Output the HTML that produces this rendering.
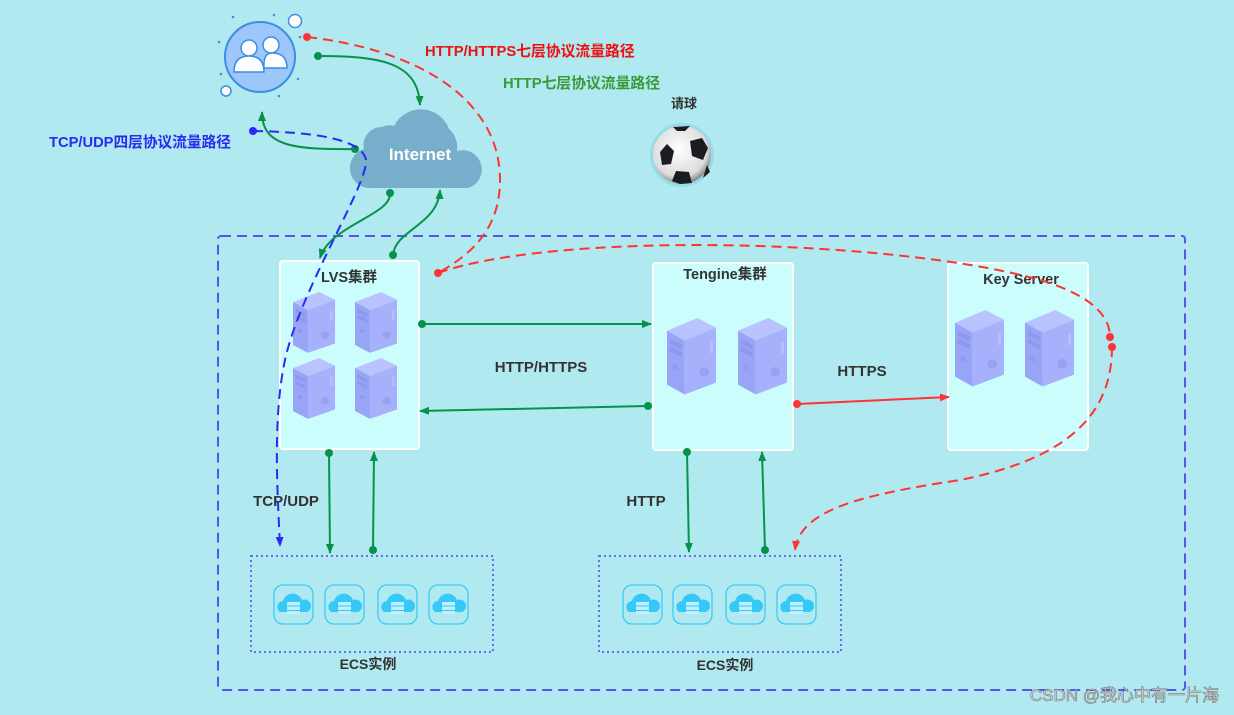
<!DOCTYPE html>
<html><head><meta charset="utf-8"><style>
html,body{margin:0;padding:0;background:#b0e9f0;}
svg{display:block;font-family:"Liberation Sans","Noto Sans CJK SC",sans-serif;}
</style></head><body>
<svg width="1234" height="715" viewBox="0 0 1234 715" xmlns="http://www.w3.org/2000/svg">
<defs>
<g id="srv">
<polygon points="0,13 31,0 50,10 18,23" fill="#b9c3fd"/>
<polygon points="0,13 18,23 18,78 0,68" fill="#98a4f6"/>
<polygon points="18,23 50,10 50,66 18,78" fill="#a6b0fb"/>
<polygon points="3,21 15,27 15,32 3,26" fill="#8d99ee"/>
<polygon points="3,29 15,35 15,40 3,34" fill="#8d99ee"/>
<circle cx="8" cy="50" r="2.5" fill="#8d99ee"/>
<circle cx="38" cy="55" r="5" fill="#98a2f2"/>
<rect x="44" y="24" width="3" height="12" fill="#b7c0fc"/>
</g>
<g id="ecs">
<rect x="0" y="0" width="39" height="39" rx="9" fill="none" stroke="#3ccdf5" stroke-width="1.3"/>
<path d="M6,27 a6,6 0 0 1 3,-11 a10,10 0 0 1 19,-1 a6,6 0 0 1 5,12 z" fill="#36c8f8"/>
<rect x="13" y="17" width="13" height="3.5" fill="#bff0ff"/>
<rect x="13" y="21.5" width="13" height="3.5" fill="#bff0ff"/>
<rect x="13" y="26" width="13" height="3" fill="#bff0ff"/>
</g>
<marker id="ag" markerWidth="10" markerHeight="8" refX="9" refY="4" orient="auto" markerUnits="userSpaceOnUse"><path d="M0,0 L10,4 L0,8 z" fill="#07924a"/></marker>
<marker id="ar" markerWidth="10" markerHeight="8" refX="9" refY="4" orient="auto" markerUnits="userSpaceOnUse"><path d="M0,0 L10,4 L0,8 z" fill="#f33"/></marker>
<marker id="ab" markerWidth="10" markerHeight="8" refX="9" refY="4" orient="auto" markerUnits="userSpaceOnUse"><path d="M0,0 L10,4 L0,8 z" fill="#2a2af5"/></marker>
<radialGradient id="ball" cx="0.45" cy="0.4" r="0.6"><stop offset="0" stop-color="#fff"/><stop offset="0.8" stop-color="#dcdcdc"/><stop offset="1" stop-color="#888"/></radialGradient>
</defs>

<rect x="218" y="236" width="967" height="454" rx="3" fill="none" stroke="#5656ee" stroke-width="2" stroke-dasharray="10,6"/>

<!-- users icon -->
<circle cx="260" cy="57" r="35" fill="#9dc6fb" stroke="#3b8ee0" stroke-width="2"/>
<circle cx="249" cy="48" r="8" fill="#fff" stroke="#3b8ee0" stroke-width="1.5"/>
<path d="M234,72 q0,-16 15,-16 q15,0 15,16 z" fill="#fff" stroke="#3b8ee0" stroke-width="1.5"/>
<circle cx="271" cy="45" r="8" fill="#fff" stroke="#3b8ee0" stroke-width="1.5"/>
<path d="M264,68 q-1,-15 8,-15 q15,0 15,15 z" fill="#fff" stroke="#3b8ee0" stroke-width="1.5"/>
<circle cx="295" cy="21" r="6.5" fill="#fff" stroke="#3b8ee0" stroke-width="1.5"/>
<circle cx="226" cy="91" r="5" fill="#fff" stroke="#3b8ee0" stroke-width="1.5"/>
<g fill="#3b8ee0"><circle cx="233" cy="17" r="1.3"/><circle cx="274" cy="15" r="1.3"/><circle cx="219" cy="42" r="1.3"/><circle cx="221" cy="74" r="1.3"/><circle cx="298" cy="79" r="1.3"/><circle cx="279" cy="96" r="1.3"/><circle cx="300" cy="37" r="1.3"/></g>

<!-- cloud -->
<path d="M372,188 a20,20 0 0 1 -8,-39 a18,18 0 0 1 18,-22 a17,17 0 0 1 12,-1 a30,30 0 0 1 55,3 a24,24 0 0 1 8,22 a19,19 0 0 1 11,37 z" fill="#76aecb"/>
<text x="420" y="160" font-size="17" font-weight="bold" fill="#fff" text-anchor="middle">Internet</text>

<!-- ball -->
<text x="684" y="108" font-size="13" font-weight="bold" fill="#333" text-anchor="middle">请球</text>
<circle cx="682" cy="155" r="32" fill="#7fd0dc" opacity="0.5"/>
<circle cx="682" cy="155" r="29" fill="url(#ball)"/>
<g fill="#1b1b22"><polygon points="667,144 660,152 662,165 671,164 674,151"/><polygon points="690,141 702,138 708,148 703,160 692,156"/><polygon points="676,171 689,172 692,183 680,184 672,181"/><polygon points="673,127 690,126 685,131 677,131"/><polygon points="707,165 710,172 703,178"/></g>

<!-- boxes -->
<rect x="280" y="261" width="139" height="188" rx="3" fill="#ccfdfd" stroke="#fff" stroke-width="2"/>
<rect x="653" y="263" width="140" height="187" rx="3" fill="#ccfdfd" stroke="#fff" stroke-width="2"/>
<rect x="948" y="263" width="140" height="187" rx="3" fill="#ccfdfd" stroke="#fff" stroke-width="2"/>
<text x="349" y="282" font-size="14.5" font-weight="bold" fill="#333" text-anchor="middle">LVS集群</text>
<text x="725" y="279" font-size="14.5" font-weight="bold" fill="#333" text-anchor="middle">Tengine集群</text>
<text x="1021" y="284" font-size="14.5" font-weight="bold" fill="#333" text-anchor="middle">Key Server</text>

<use href="#srv" transform="translate(293,292) scale(0.84,0.78)"/>
<use href="#srv" transform="translate(355,292) scale(0.84,0.78)"/>
<use href="#srv" transform="translate(293,358) scale(0.84,0.78)"/>
<use href="#srv" transform="translate(355,358) scale(0.84,0.78)"/>
<use href="#srv" transform="translate(667,318) scale(0.98,0.98)"/>
<use href="#srv" transform="translate(738,318) scale(0.98,0.98)"/>
<use href="#srv" transform="translate(955,310) scale(0.98,0.98)"/>
<use href="#srv" transform="translate(1025,310) scale(0.98,0.98)"/>

<!-- ECS -->
<rect x="251" y="556" width="242" height="96" fill="none" stroke="#6b6bf5" stroke-width="2" stroke-dasharray="2,3"/>
<rect x="599" y="556" width="242" height="96" fill="none" stroke="#6b6bf5" stroke-width="2" stroke-dasharray="2,3"/>
<use href="#ecs" x="274" y="585"/><use href="#ecs" x="325" y="585"/><use href="#ecs" x="378" y="585"/><use href="#ecs" x="429" y="585"/>
<use href="#ecs" x="623" y="585"/><use href="#ecs" x="673" y="585"/><use href="#ecs" x="726" y="585"/><use href="#ecs" x="777" y="585"/>
<text x="368" y="669" font-size="14" font-weight="bold" fill="#333" text-anchor="middle">ECS实例</text>
<text x="725" y="670" font-size="14" font-weight="bold" fill="#333" text-anchor="middle">ECS实例</text>

<!-- labels -->
<text x="425" y="56" font-size="14.8" font-weight="bold" fill="#f01010">HTTP/HTTPS七层协议流量路径</text>
<text x="503" y="88" font-size="14.8" font-weight="bold" fill="#3a9a3a">HTTP七层协议流量路径</text>
<text x="49" y="147" font-size="14.7" font-weight="bold" fill="#2b2bf0">TCP/UDP四层协议流量路径</text>
<text x="541" y="372" font-size="15" font-weight="bold" fill="#333" text-anchor="middle">HTTP/HTTPS</text>
<text x="862" y="376" font-size="15" font-weight="bold" fill="#333" text-anchor="middle">HTTPS</text>
<text x="286" y="506" font-size="15" font-weight="bold" fill="#333" text-anchor="middle">TCP/UDP</text>
<text x="646" y="506" font-size="15" font-weight="bold" fill="#333" text-anchor="middle">HTTP</text>

<!-- green lines -->
<g stroke="#07924a" stroke-width="2" fill="none">
<path d="M318,56 C380,56 418,62 420,105" marker-end="url(#ag)"/>
<path d="M355,149 C290,150 262,145 262,112" marker-end="url(#ag)"/>
<path d="M390,193 C392,215 330,225 320,258" marker-end="url(#ag)"/>
<path d="M393,255 C395,230 438,225 440,190" marker-end="url(#ag)"/>
<path d="M422,324 L651,324" marker-end="url(#ag)"/>
<path d="M648,406 L420,411" marker-end="url(#ag)"/>
<path d="M329,453 L330,553" marker-end="url(#ag)"/>
<path d="M373,550 L374,452" marker-end="url(#ag)"/>
<path d="M687,452 L689,552" marker-end="url(#ag)"/>
<path d="M765,550 L762,452" marker-end="url(#ag)"/>
</g>
<g fill="#07924a"><circle cx="318" cy="56" r="4"/><circle cx="355" cy="149" r="4"/><circle cx="390" cy="193" r="4"/><circle cx="393" cy="255" r="4"/><circle cx="422" cy="324" r="4"/><circle cx="648" cy="406" r="4"/><circle cx="329" cy="453" r="4"/><circle cx="373" cy="550" r="4"/><circle cx="687" cy="452" r="4"/><circle cx="765" cy="550" r="4"/></g>

<!-- red -->
<path d="M797,404 L949,397" stroke="#f33" stroke-width="2" fill="none" marker-end="url(#ar)"/>
<circle cx="797" cy="404" r="4" fill="#f33"/>
<g stroke="#f33" stroke-width="2" fill="none" stroke-dasharray="10,6">
<path d="M307,37 C420,50 500,100 500,180 C500,230 470,255 438,273"/>
<path d="M438,273 C560,230 900,240 1040,280 C1090,295 1110,315 1110,337"/>
<path d="M1112,347 C1112,420 1060,460 960,480 C860,495 800,510 795,550" marker-end="url(#ar)"/>
</g>
<g fill="#f33"><circle cx="307" cy="37" r="4"/><circle cx="438" cy="273" r="4"/><circle cx="1110" cy="337" r="4"/><circle cx="1112" cy="347" r="4"/></g>

<!-- blue -->
<path d="M253,131 C310,132 362,138 366,160 C368,185 300,290 285,360 C272,420 278,500 280,546" stroke="#2a2af5" stroke-width="2" fill="none" stroke-dasharray="10,6" marker-end="url(#ab)"/>
<circle cx="253" cy="131" r="4" fill="#2a2af5"/>

<text x="1219" y="701" font-size="17" fill="#d8d8d8" stroke="#777" stroke-width="0.6" text-anchor="end">CSDN @我心中有一片海</text>
</svg>
</body></html>
